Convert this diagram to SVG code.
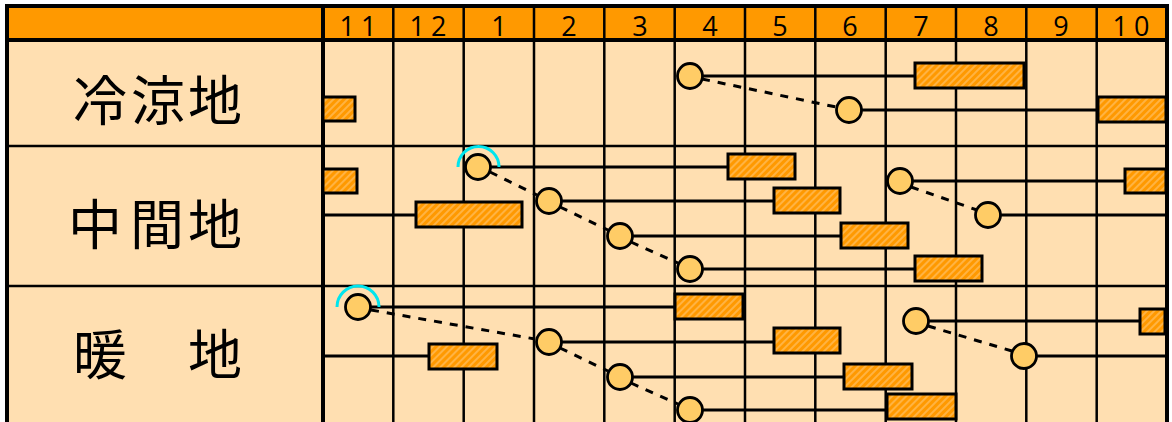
<svg xmlns="http://www.w3.org/2000/svg" width="1172" height="422" viewBox="0 0 1172 422">
<defs>
<pattern id="hatch" width="5" height="5" patternUnits="userSpaceOnUse" patternTransform="rotate(45)">
<rect width="5" height="5" fill="#FF9900"/>
<line x1="1" y1="0" x2="1" y2="5" stroke="#FFC266" stroke-width="1.3"/>
</pattern>
<style>
.bg{fill:#FFDFB1}
.hdr{fill:#FF9900}
.grid{stroke:#000;stroke-width:2.5;fill:none}
.thick{stroke:#000;stroke-width:4;fill:none}
.bar{fill:url(#hatch);stroke:#000;stroke-width:3}
.pt{fill:#FFCC66;stroke:#000;stroke-width:2.8}
.arc{fill:none;stroke:#00E5EE;stroke-width:3}
.ln{stroke:#000;stroke-width:3;fill:none}
.dl{stroke:#000;stroke-width:3;fill:none;stroke-dasharray:8 8}
.num{font-family:"Open Sans","Noto Sans",sans-serif;font-size:27px;fill:#000;text-anchor:middle}
.lab{font-family:"Noto Sans CJK JP",sans-serif;font-size:54px;fill:#000;text-anchor:middle}
</style>
</defs>
<rect x="0" y="0" width="1172" height="422" fill="#FFFFFF"/>
<rect class="bg" x="7" y="40" width="1160" height="382"/>
<rect class="hdr" x="7" y="6" width="1160" height="34"/>

<g id="grid">
<path class="grid" d="M393.3 40V422M463.7 40V422M534 40V422M604.3 40V422M674.7 40V422M745 40V422M815.3 40V422M885.7 40V422M956 40V422M1026.3 40V422M1096.7 40V422"/>
<path class="grid" d="M393.3 6V40M463.7 6V40M534 6V40M604.3 6V40M674.7 6V40M745 6V40M815.3 6V40M885.7 6V40M956 6V40M1026.3 6V40M1096.7 6V40"/>
<path class="grid" d="M7 146H1167M7 286H1167"/>
<path class="thick" d="M7 6H1167M7 40H1167M7 4V422M323 4V422M1167 4V422"/>
</g>

<g id="header">
<text class="num" x="361" y="36" letter-spacing="6">11</text>
<text class="num" x="431" y="36" letter-spacing="6">12</text>
<text class="num" x="499" y="36">1</text>
<text class="num" x="569" y="36">2</text>
<text class="num" x="640" y="36">3</text>
<text class="num" x="710" y="36">4</text>
<text class="num" x="780" y="36">5</text>
<text class="num" x="850" y="36">6</text>
<text class="num" x="921" y="36">7</text>
<text class="num" x="991" y="36">8</text>
<text class="num" x="1061" y="36">9</text>
<text class="num" x="1134" y="36" letter-spacing="6">10</text>
</g>

<g id="connectors">
<path class="ln" d="M702 76H915M862 110H1098"/>
<path class="dl" d="M702 79L836 107"/>
<path class="ln" d="M491 167H728M561 201H774M632 236H841M702 269H915M323 215H416M912 181H1125M1001 215H1166"/>
<path class="dl" d="M490 172L537 195M560 207L608 230M631 242L678 263M911 187L977 210"/>
<path class="ln" d="M371 307H675M323 356H429M561 342H774M632 377H844M702 410H887M928 321H1140M1037 356H1166"/>
<path class="dl" d="M371 310L535 339M560 348L608 371M631 383L678 404M928 326L1012 351"/>
</g>

<g id="row-cold">
<text class="lab" x="100 158 215" y="121">冷涼地</text>
<rect class="bar" x="323" y="97" width="32" height="24"/>
<rect class="bar" x="915" y="63" width="109" height="25"/>
<rect class="bar" x="1098" y="97" width="68" height="25"/>
<circle class="pt" cx="690" cy="76" r="12.5"/>
<circle class="pt" cx="849" cy="110" r="12.5"/>
</g>

<g id="row-mid">
<text class="lab" x="95 157 215" y="245">中間地</text>
<rect class="bar" x="323" y="169" width="34" height="24"/>
<rect class="bar" x="416" y="202" width="106" height="25"/>
<rect class="bar" x="728" y="154" width="67" height="25"/>
<rect class="bar" x="774" y="188" width="66" height="25"/>
<rect class="bar" x="841" y="223" width="67" height="25"/>
<rect class="bar" x="915" y="256" width="67" height="25"/>
<rect class="bar" x="1125" y="169" width="41" height="24"/>
<path class="arc" d="M458 167A20 20 0 0 1 499 167"/>
<circle class="pt" cx="478" cy="167" r="12.5"/>
<circle class="pt" cx="549" cy="201" r="12.5"/>
<circle class="pt" cx="620" cy="236" r="12.5"/>
<circle class="pt" cx="690" cy="269" r="12.5"/>
<circle class="pt" cx="900" cy="181" r="12.5"/>
<circle class="pt" cx="988" cy="215" r="12.5"/>
</g>

<g id="row-warm">
<text class="lab" x="100 157 215" y="375">暖　地</text>
<rect class="bar" x="675" y="294" width="68" height="25"/>
<rect class="bar" x="429" y="344" width="68" height="25"/>
<rect class="bar" x="774" y="328" width="66" height="25"/>
<rect class="bar" x="844" y="364" width="68" height="25"/>
<rect class="bar" x="887" y="394" width="69" height="25"/>
<rect class="bar" x="1140" y="309" width="25" height="25"/>
<path class="arc" d="M337 307A21 21 0 0 1 379 307"/>
<circle class="pt" cx="358" cy="307" r="12.5"/>
<circle class="pt" cx="549" cy="342" r="12.5"/>
<circle class="pt" cx="620" cy="377" r="12.5"/>
<circle class="pt" cx="690" cy="410" r="12.5"/>
<circle class="pt" cx="916" cy="321" r="12.5"/>
<circle class="pt" cx="1024" cy="356" r="12.5"/>
</g>
</svg>
